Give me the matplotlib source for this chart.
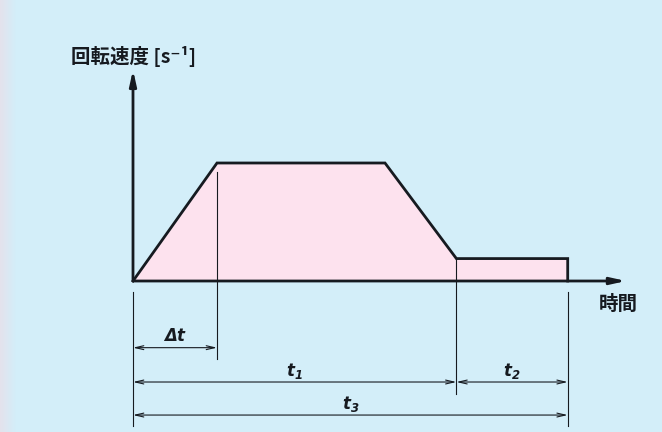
import numpy as np
import matplotlib.pyplot as plt
from matplotlib.colors import LinearSegmentedColormap

plt.rcParams['mathtext.fontset'] = 'dejavusans'

# speed profile (time units, relative speed)
time = [0, 2.0, 6.0, 7.7, 10.35, 10.35]
speed = [0, 1.0, 1.0, 0.19, 0.19, 0.0]

# dimension labels and their spans
dims = [
    (r'$\mathbfit{\Delta t}$', 0, 2.0, -0.565),
    (r'$\mathbfit{t}_{\mathbfit{1}}$', 0, 7.7, -0.856),
    (r'$\mathbfit{t}_{\mathbfit{2}}$', 7.7, 10.35, -0.856),
    (r'$\mathbfit{t}_{\mathbfit{3}}$', 0, 10.35, -1.136),
]
ylabel = '回転速度 [s⁻¹]'
xlabel = '時間'

bg = '#d3eef9'
fill = '#fde2ee'
ink = '#161a20'

fig = plt.figure(figsize=(6.62, 4.32), dpi=100)
fig.patch.set_facecolor(bg)
ax = fig.add_axes([0, 0, 1, 1])
ax.set_facecolor(bg)
ax.set_xlim(-133 / 42, (662 - 133) / 42)
ax.set_ylim(-(432 - 281) / 118, 281 / 118)
ax.axis('off')

# faint lavender strip on the left edge
cmap = LinearSegmentedColormap.from_list('edge', ['#e4e2ec', bg])
grad = np.linspace(0, 1, 50).reshape(1, -1)
ax.imshow(grad, cmap=cmap, aspect='auto', extent=[-133 / 42, -118 / 42, -1.28, 2.38], zorder=0)

# filled profile
ax.fill_between(time, speed, 0, color=fill, lw=0, zorder=1)
ax.plot(time, speed, color=ink, lw=2.0, solid_joinstyle='miter', zorder=3)

# axes arrows
ax.annotate('', xy=(0, 1.79), xytext=(0, 0),
            arrowprops=dict(arrowstyle='-|>,head_length=0.9,head_width=0.2', color=ink, lw=2.0,
                            shrinkA=0, shrinkB=0), zorder=4)
ax.annotate('', xy=(11.74, 0), xytext=(0, 0),
            arrowprops=dict(arrowstyle='-|>,head_length=0.9,head_width=0.2', color=ink, lw=2.0,
                            shrinkA=0, shrinkB=0), zorder=4)

# extension lines
ax.plot([0, 0], [-0.093, -1.229], color=ink, lw=0.8)
ax.plot([2.0, 2.0], [0.92, -0.66], color=ink, lw=0.8)
ax.plot([7.7, 7.7], [0.19, -0.958], color=ink, lw=0.8)
ax.plot([10.35, 10.35], [-0.093, -1.229], color=ink, lw=0.8)

# dimension lines
for label, x0, x1, y in dims:
    ax.annotate('', xy=(x0, y), xytext=(x1, y),
                arrowprops=dict(arrowstyle='<->,head_length=0.6,head_width=0.14', color=ink, lw=0.8,
                                shrinkA=0, shrinkB=0))
    ax.text((x0 + x1) / 2, y + 0.095, label, ha='center', va='center', fontsize=12, color=ink)

ax.text(0.02, 1.9, ylabel, ha='center', va='center', fontsize=14, fontweight='bold',
        color=ink, family=['Noto Sans CJK JP', 'DejaVu Sans'])
ax.text(11.55, -0.2, xlabel, ha='center', va='center', fontsize=14, fontweight='bold',
        color=ink, family=['Noto Sans CJK JP', 'DejaVu Sans'])

fig.savefig('out.png', dpi=100, facecolor=bg)
